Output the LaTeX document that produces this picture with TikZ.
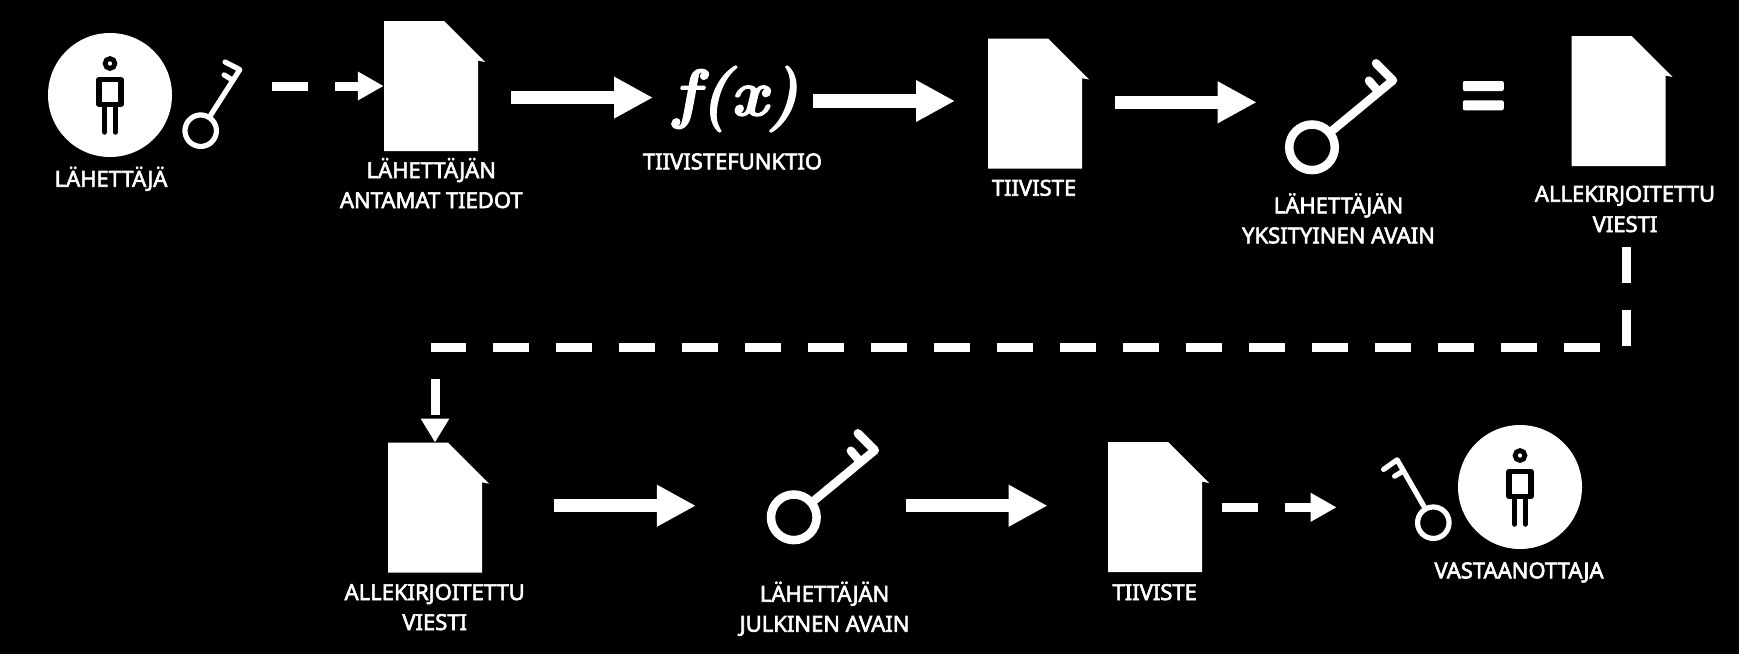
\documentclass[tikz,border=0pt]{standalone}
\usepackage{fontspec}
\setsansfont{Noto Sans}
\newcommand{\heavytext}[1]{\special{pdf:code 1 1 1 RG #1 w 2 Tr}}
\usetikzlibrary{arrows.meta}
\tikzset{
  docbox/.style={inner sep=0pt,minimum width=94pt,minimum height=130pt},
  personball/.style={circle,fill=white,inner sep=0pt,minimum size=124pt},
  eqbar/.style={fill=white,rounded corners=2pt,inner sep=0pt,minimum width=41pt,minimum height=10pt},
  lab/.style={white,font=\sffamily\fontsize{22}{30}\selectfont\heavytext{0.6},align=center,anchor=base,inner sep=0pt},
  fatarrow/.style={white,line width=13.3pt,-{Triangle[length=39pt,width=39pt]}},
  dasharrow/.style={white,line width=9pt,dash pattern=on 36pt off 27pt,-{Triangle[length=26pt,width=27pt]}},
  pics/keyicon/.style={code={
    \coordinate (-ring) at (0,0);
    \draw[white] (0,0) circle [radius=22.8];
    \draw[white,line cap=round,line join=round] (17.6,-14.5) -- (81,-67) -- (64,-84);
    \draw[white,line cap=round] (57,-66.6) -- (66.5,-55.5);
  }},
  pics/personicon/.style={code={
    \draw[black,line width=4.8pt] (0,-31.5) circle [radius=4.9];
    \draw[black,line width=5.5pt,line join=round,fill=white] (-11,-15.3) rectangle (11,9.3);
    \draw[black,line width=5.5pt,line cap=round] (-5.4,12) -- (-5.4,37);
    \draw[black,line width=5.5pt,line cap=round] (5.4,12) -- (5.4,37);
  }}
}
\begin{document}
\begin{tikzpicture}[x=1pt,y=-1pt]
\useasboundingbox (0,0) rectangle (1739,654);
\fill[black] (0,0) rectangle (1739,654);
    % persons
    \foreach \who/\xp/\yp in {sender/110/95,receiver/1520/487}{
      \node[personball] (\who) at (\xp,\yp) {};
      \pic at (\who) {personicon};
    }
    % documents
    \foreach \docname/\xp/\yp in {doca/431/86,docb/1035/103.5,docc/1618.5/101,docd/435/507.7,doce/1155/507}{
      \node[docbox] (\docname) at (\xp,\yp) {};
      \fill[white,shift={(\xp-47,\yp-65)}] (0,0) -- (60,0) -- (101,41) -- (94,39.6) -- (94,130) -- (0,130) -- cycle;
    }
    % keys
    \pic[line width=5.2pt,scale=.69,rotate=17.8] (keya) at (200.7,130.7) {keyicon};
    \pic[line width=8.5pt] (keyb) at (1312,147.3) {keyicon};
    \pic[line width=8.5pt] (keyc) at (793.8,517.3) {keyicon};
    \pic[line width=5.2pt,scale=.69,rotate=80.3] (keyd) at (1433.3,522.7) {keyicon};
    \node[white,inner sep=0pt,font=\rmfamily\bfseries\itshape\fontsize{66}{66}\selectfont\heavytext{1.2}] (hashfn) at (736,99) {f(x)};
    \node[eqbar] (eqtop) at (1483.3,86) {};
    \node[eqbar] (eqbottom) at (1483.3,105.3) {};
    % arrows
    \draw[dasharrow] ([shift={(71.3,-44.7)}]keya-ring) -- (doca.west);
    \draw[fatarrow] ([shift={(80,11.6)}]doca.center) -- ([shift={(-83,-1.4)}]hashfn.center);
    \draw[fatarrow] ([shift={(77,2)}]hashfn.center) -- ([shift={(-80,-2.5)}]docb.center);
    \draw[fatarrow] ([shift={(80,-1.2)}]docb.center) -- ([shift={(-55.3,-45)}]keyb-ring);
    \draw[dasharrow,-{Triangle[length=24pt,width=27pt]}] ([shift={(7.5,146.3)}]docc.center) -- ++(0,99.7) -| (docd.north);
    \draw[fatarrow] ([shift={(118.9,-2)}]docd.center) -- ([shift={(-97.9,-11.6)}]keyc-ring);
    \draw[fatarrow] ([shift={(112.2,-11.6)}]keyc-ring) -- ([shift={(-107.3,-1.3)}]doce.center);
    \draw[dasharrow] ([shift={(67.3,.3)}]doce.center) -- ([shift={(-96.6,-15.4)}]keyd-ring);
    % labels
    \node[lab] (labsender) at (111,186.7) {LÄHETTÄJÄ};
    \node[lab] (labdataa) at (431.3,178) {LÄHETTÄJÄN};
    \node[lab] (labdatab) at (431.3,208) {ANTAMAT TIEDOT};
    \node[lab] (labhashfn) at (732.5,169.3) {TIIVISTEFUNKTIO};
    \node[lab] (labhash) at (1034,195.7) {TIIVISTE};
    \node[lab] (labpriva) at (1338.5,213.3) {LÄHETTÄJÄN};
    \node[lab] (labprivb) at (1338.5,243.3) {YKSITYINEN AVAIN};
    \node[lab] (labsigna) at (1625,201.7) {ALLEKIRJOITETTU};
    \node[lab] (labsignb) at (1625,232) {VIESTI};
    \node[lab] (labsigc) at (434.7,600) {ALLEKIRJOITETTU};
    \node[lab] (labsigd) at (434.7,630) {VIESTI};
    \node[lab] (labpuba) at (824.6,601.7) {LÄHETTÄJÄN};
    \node[lab] (labpubb) at (824.6,631.7) {JULKINEN AVAIN};
    \node[lab] (labhashb) at (1154.7,600) {TIIVISTE};
    \node[lab] (labreceiver) at (1519,578.3) {VASTAANOTTAJA};
\end{tikzpicture}
\end{document}
